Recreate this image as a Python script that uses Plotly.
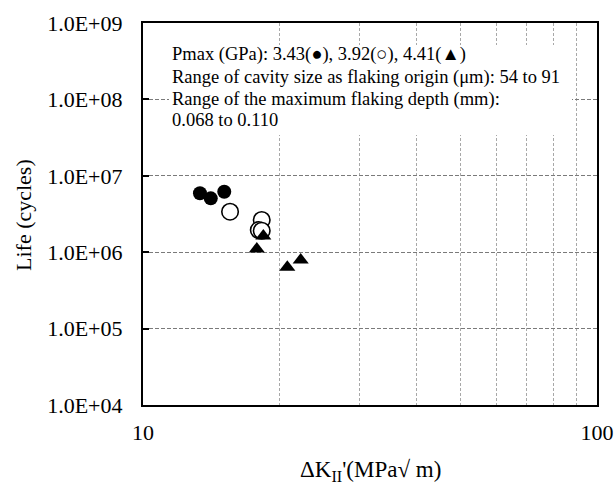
import plotly.graph_objects as go

# ---- data ----
dk_343 = [13.35, 14.10, 15.10]
life_343 = [5.90e6, 5.07e6, 6.19e6]

dk_392 = [15.55, 18.26, 17.99, 18.26]
life_392 = [3.39e6, 2.64e6, 1.95e6, 1.91e6]

dk_441 = [18.41, 17.81, 20.79, 22.25]
life_441 = [1.63e6, 1.10e6, 6.34e5, 7.90e5]

y_tickvals = [1e4, 1e5, 1e6, 1e7, 1e8, 1e9]
y_ticktext = ["1.0E+04", "1.0E+05", "1.0E+06", "1.0E+07", "1.0E+08", "1.0E+09"]
x_tickvals = [10, 100]
x_ticktext = ["10", "100"]
x_minorvals = [20, 30, 40, 50, 60, 70, 80, 90]

note_lines = [
    "Pmax (GPa): 3.43(●), 3.92(○), 4.41(▲)",
    "Range of cavity size as flaking origin (μm): 54 to 91",
    "Range of the maximum flaking depth (mm):",
    "0.068 to 0.110",
]

FONT = "Liberation Serif, Times New Roman, serif"

fig = go.Figure()
fig.add_trace(go.Scatter(x=dk_343, y=life_343, mode="markers",
                         marker=dict(symbol="circle", size=14, color="black"),
                         name="3.43"))
fig.add_trace(go.Scatter(x=dk_392, y=life_392, mode="markers",
                         marker=dict(symbol="circle", size=16.5, color="white",
                                     line=dict(color="black", width=1.6)),
                         name="3.92"))
fig.add_trace(go.Scatter(x=dk_441, y=life_441, mode="markers",
                         marker=dict(symbol="triangle-up", size=14, color="black"),
                         name="4.41"))

L, R, T, B = 143, 18, 23, 85
W, H = 615, 490
pw, ph = W - L - R, H - T - B

def px(xp):
    return (xp - L) / pw

def py(yp):
    return (H - B - yp) / ph

fig.update_layout(
    width=W, height=H,
    margin=dict(l=L, r=R, t=T, b=B, autoexpand=False),
    paper_bgcolor="white", plot_bgcolor="white",
    showlegend=False,
    font=dict(family=FONT, color="black", size=22),
)

fig.update_xaxes(
    type="log", range=[1, 2],
    tickmode="array", tickvals=x_tickvals, ticktext=x_ticktext,
    ticks="", ticklabelstandoff=6,
    tickfont=dict(family=FONT, size=22, color="black"),
    showgrid=False,
    minor=dict(tickmode="array", tickvals=x_minorvals, ticks="",
               showgrid=True, gridcolor="#a8a8a8", gridwidth=1,
               griddash="3px,2px"),
    showline=True, linecolor="black", linewidth=2.2, mirror=True,
    zeroline=False,
)
fig.update_yaxes(
    type="log", range=[4, 9],
    tickmode="array", tickvals=y_tickvals, ticktext=y_ticktext,
    ticks="inside", ticklen=6, tickwidth=1.5, tickcolor="black",
    ticklabelstandoff=14,
    tickfont=dict(family=FONT, size=22, color="black"),
    showgrid=True, gridcolor="#7a7a7a", gridwidth=1.2, griddash="4px,2px",
    showline=True, linecolor="black", linewidth=2.2, mirror=True,
    zeroline=False,
)

# white box behind the note (covers grid lines)
fig.add_shape(type="rect", xref="paper", yref="paper",
              x0=px(169), x1=px(572), y0=py(135), y1=py(45),
              fillcolor="white", line=dict(width=0), layer="above")

line_y = [55, 77, 99, 120.5]
for txt, yy in zip(note_lines, line_y):
    fig.add_annotation(text=txt, xref="paper", yref="paper",
                       x=px(170), y=py(yy), xanchor="left", yanchor="middle",
                       showarrow=False, align="left",
                       font=dict(family=FONT, size=18.5, color="black"))

# "50" tick label (sits slightly lower in the reference)
fig.add_annotation(text="50", xref="x", yref="paper", x=0.69897, y=py(439),
                   xanchor="center", yanchor="middle", showarrow=False,
                   font=dict(family=FONT, size=22, color="black"))

# axis titles
fig.add_annotation(text="ΔK<sub>II</sub>'(MPa√ m)", xref="paper", yref="paper",
                   x=px(370), y=py(471), xanchor="center", yanchor="middle",
                   showarrow=False, font=dict(family=FONT, size=23, color="black"))
fig.add_annotation(text="Life (cycles)", xref="paper", yref="paper",
                   x=px(23), y=py(215), xanchor="center", yanchor="middle",
                   textangle=-90, showarrow=False,
                   font=dict(family=FONT, size=22, color="black"))

fig.write_html("out.html")
